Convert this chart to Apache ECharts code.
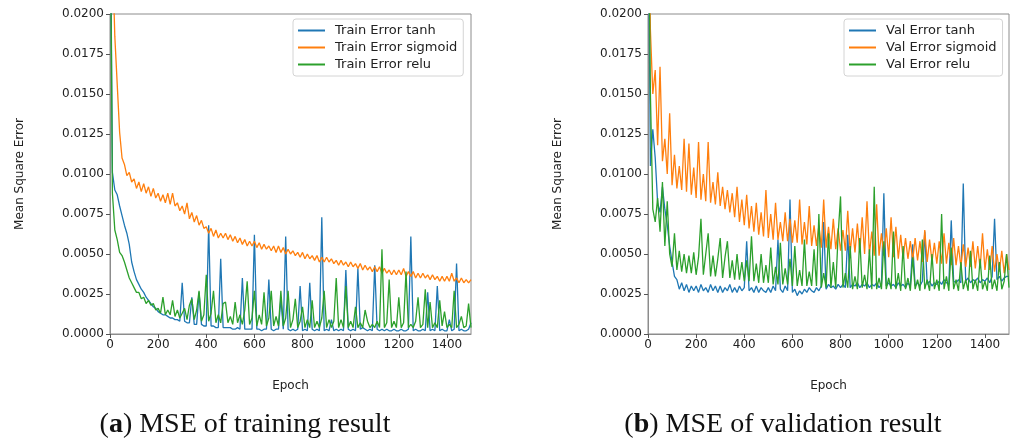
<!DOCTYPE html>
<html>
<head>
<meta charset="utf-8">
<script src="https://cdn.jsdelivr.net/npm/echarts@6/dist/echarts.min.js"></script>
<style>
  html, body { margin: 0; padding: 0; background: #fff; }
  #main { width: 1011px; height: 441px; }
</style>
</head>
<body>
<div id="main"></div>
<script>
// one value every 10 epochs, epoch 0 .. 1500
var epochStep = 10;

// 训练误差
var trainTanh = [
  0.0300,0.0101,0.0090,0.0087,0.0080,0.0074,0.0068,0.0063,0.0056,0.0045,
  0.0039,0.0034,0.0031,0.0028,0.0026,0.0023,0.0021,0.0019,0.0017,0.0016,
  0.0014,0.0013,0.0012,0.0012,0.0011,0.0010,0.0010,0.0009,0.0009,0.0008,
  0.0032,0.0008,0.0007,0.0007,0.0023,0.0006,0.0006,0.0026,0.0006,0.0005,
  0.0005,0.0068,0.0005,0.0005,0.0004,0.0004,0.0047,0.0004,0.0004,0.0004,
  0.0004,0.0003,0.0003,0.0004,0.0003,0.0035,0.0003,0.0003,0.0003,0.0003,
  0.0062,0.0003,0.0003,0.0002,0.0003,0.0003,0.0034,0.0003,0.0002,0.0003,
  0.0003,0.0022,0.0003,0.0061,0.0003,0.0002,0.0003,0.0002,0.0003,0.0030,
  0.0002,0.0003,0.0002,0.0032,0.0003,0.0002,0.0003,0.0002,0.0073,0.0002,
  0.0003,0.0002,0.0009,0.0002,0.0003,0.0002,0.0003,0.0002,0.0040,0.0003,
  0.0002,0.0003,0.0002,0.0041,0.0003,0.0004,0.0003,0.0002,0.0003,0.0002,
  0.0043,0.0003,0.0002,0.0003,0.0002,0.0003,0.0002,0.0002,0.0003,0.0002,
  0.0002,0.0003,0.0002,0.0002,0.0003,0.0061,0.0002,0.0003,0.0002,0.0002,
  0.0003,0.0002,0.0026,0.0002,0.0003,0.0002,0.0030,0.0002,0.0003,0.0002,
  0.0002,0.0009,0.0002,0.0003,0.0044,0.0002,0.0003,0.0002,0.0002,0.0003,
  0.0007
];
var trainSigmoid = [
  0.0300,0.0240,0.0186,0.0156,0.0126,0.0110,0.0106,0.0099,0.0101,0.0095,
  0.0097,0.0091,0.0095,0.0089,0.0094,0.0088,0.0092,0.0086,0.0091,0.0085,
  0.0088,0.0083,0.0087,0.0082,0.0088,0.0081,0.0088,0.0080,0.0082,0.0077,
  0.0080,0.0075,0.0082,0.0072,0.0076,0.0070,0.0074,0.0068,0.0071,0.0066,
  0.0067,0.0063,0.0066,0.0061,0.0065,0.0060,0.0063,0.0060,0.0063,0.0059,
  0.0062,0.0058,0.0061,0.0057,0.0060,0.0056,0.0059,0.0055,0.0058,0.0055,
  0.0058,0.0054,0.0057,0.0053,0.0056,0.0053,0.0055,0.0052,0.0055,0.0051,
  0.0055,0.0051,0.0054,0.0050,0.0053,0.0050,0.0052,0.0049,0.0051,0.0048,
  0.0051,0.0047,0.0050,0.0047,0.0049,0.0046,0.0049,0.0045,0.0048,0.0045,
  0.0048,0.0045,0.0047,0.0044,0.0046,0.0043,0.0046,0.0043,0.0045,0.0042,
  0.0045,0.0042,0.0044,0.0041,0.0044,0.0040,0.0043,0.0040,0.0042,0.0039,
  0.0042,0.0039,0.0042,0.0038,0.0041,0.0038,0.0040,0.0037,0.0040,0.0037,
  0.0040,0.0037,0.0041,0.0036,0.0039,0.0036,0.0039,0.0035,0.0038,0.0035,
  0.0038,0.0035,0.0037,0.0034,0.0037,0.0034,0.0036,0.0033,0.0036,0.0033,
  0.0036,0.0033,0.0038,0.0033,0.0035,0.0032,0.0035,0.0032,0.0034,0.0032,
  0.0034
];
var trainRelu = [
  0.0300,0.0088,0.0065,0.0059,0.0051,0.0049,0.0045,0.0040,0.0035,0.0032,
  0.0029,0.0026,0.0026,0.0022,0.0023,0.0019,0.0021,0.0018,0.0019,0.0015,
  0.0016,0.0013,0.0023,0.0012,0.0015,0.0012,0.0021,0.0011,0.0015,0.0010,
  0.0013,0.0016,0.0009,0.0018,0.0022,0.0009,0.0015,0.0027,0.0008,0.0012,
  0.0037,0.0008,0.0013,0.0027,0.0007,0.0012,0.0007,0.0019,0.0020,0.0007,
  0.0011,0.0006,0.0020,0.0007,0.0012,0.0006,0.0015,0.0033,0.0006,0.0010,
  0.0027,0.0005,0.0012,0.0006,0.0026,0.0005,0.0010,0.0027,0.0005,0.0011,
  0.0005,0.0027,0.0005,0.0010,0.0027,0.0004,0.0009,0.0022,0.0004,0.0008,
  0.0017,0.0004,0.0009,0.0004,0.0021,0.0004,0.0008,0.0004,0.0010,0.0027,
  0.0004,0.0009,0.0004,0.0008,0.0035,0.0004,0.0009,0.0004,0.0030,0.0004,
  0.0008,0.0004,0.0017,0.0004,0.0007,0.0004,0.0015,0.0008,0.0004,0.0006,
  0.0004,0.0008,0.0004,0.0053,0.0004,0.0007,0.0034,0.0004,0.0008,0.0004,
  0.0023,0.0004,0.0007,0.0039,0.0004,0.0006,0.0004,0.0008,0.0023,0.0004,
  0.0006,0.0028,0.0004,0.0020,0.0004,0.0007,0.0004,0.0021,0.0005,0.0014,
  0.0004,0.0006,0.0004,0.0027,0.0004,0.0006,0.0011,0.0004,0.0005,0.0019,
  0.0004
];

// 验证误差
var valTanh = [
  0.0300,0.0105,0.0128,0.0110,0.0082,0.0076,0.0092,0.0078,0.0068,0.0055,
  0.0045,0.0036,0.0034,0.0028,0.0032,0.0027,0.0031,0.0026,0.0030,0.0027,
  0.0030,0.0026,0.0031,0.0027,0.0029,0.0026,0.0031,0.0027,0.0030,0.0026,
  0.0030,0.0026,0.0029,0.0027,0.0031,0.0026,0.0029,0.0026,0.0030,0.0027,
  0.0029,0.0058,0.0027,0.0029,0.0026,0.0030,0.0026,0.0029,0.0027,0.0026,
  0.0029,0.0026,0.0030,0.0027,0.0059,0.0028,0.0026,0.0030,0.0027,0.0084,
  0.0026,0.0028,0.0024,0.0027,0.0025,0.0028,0.0026,0.0029,0.0027,0.0026,
  0.0029,0.0027,0.0030,0.0070,0.0028,0.0031,0.0029,0.0030,0.0028,0.0031,
  0.0029,0.0031,0.0029,0.0062,0.0029,0.0031,0.0030,0.0032,0.0029,0.0031,
  0.0030,0.0032,0.0029,0.0031,0.0030,0.0032,0.0029,0.0031,0.0088,0.0030,
  0.0032,0.0030,0.0031,0.0029,0.0032,0.0030,0.0031,0.0029,0.0032,0.0030,
  0.0056,0.0030,0.0032,0.0030,0.0033,0.0064,0.0031,0.0033,0.0030,0.0032,
  0.0031,0.0033,0.0031,0.0034,0.0032,0.0031,0.0071,0.0033,0.0032,0.0034,
  0.0032,0.0094,0.0033,0.0035,0.0032,0.0034,0.0033,0.0035,0.0032,0.0034,
  0.0033,0.0035,0.0032,0.0036,0.0072,0.0034,0.0036,0.0033,0.0035,0.0036,
  0.0036
];
var valSigmoid = [
  0.0300,0.0190,0.0150,0.0165,0.0118,0.0167,0.0108,0.0122,0.0100,0.0138,
  0.0093,0.0112,0.0091,0.0105,0.0090,0.0122,0.0089,0.0119,0.0087,0.0104,
  0.0085,0.0120,0.0084,0.0100,0.0083,0.0120,0.0082,0.0095,0.0081,0.0101,
  0.0080,0.0092,0.0078,0.0090,0.0076,0.0088,0.0073,0.0092,0.0070,0.0084,
  0.0068,0.0087,0.0066,0.0080,0.0064,0.0082,0.0062,0.0076,0.0061,0.0090,
  0.0060,0.0075,0.0059,0.0082,0.0059,0.0070,0.0058,0.0076,0.0058,0.0072,
  0.0057,0.0071,0.0057,0.0084,0.0056,0.0070,0.0056,0.0080,0.0055,0.0068,
  0.0055,0.0068,0.0054,0.0084,0.0054,0.0067,0.0053,0.0072,0.0053,0.0066,
  0.0052,0.0065,0.0052,0.0077,0.0051,0.0066,0.0051,0.0069,0.0051,0.0073,
  0.0050,0.0083,0.0050,0.0064,0.0049,0.0081,0.0049,0.0063,0.0049,0.0066,
  0.0048,0.0073,0.0048,0.0067,0.0047,0.0062,0.0047,0.0060,0.0047,0.0058,
  0.0046,0.0060,0.0046,0.0058,0.0045,0.0065,0.0045,0.0059,0.0045,0.0057,
  0.0044,0.0058,0.0044,0.0063,0.0044,0.0057,0.0043,0.0060,0.0043,0.0055,
  0.0042,0.0056,0.0042,0.0054,0.0042,0.0058,0.0041,0.0055,0.0041,0.0063,
  0.0040,0.0053,0.0040,0.0055,0.0039,0.0050,0.0039,0.0052,0.0038,0.0050,
  0.0040
];
var valRelu = [
  0.0300,0.0150,0.0078,0.0070,0.0085,0.0064,0.0095,0.0055,0.0083,0.0050,
  0.0042,0.0063,0.0040,0.0052,0.0039,0.0050,0.0038,0.0049,0.0038,0.0051,
  0.0037,0.0048,0.0072,0.0037,0.0050,0.0063,0.0036,0.0049,0.0036,0.0047,
  0.0060,0.0035,0.0048,0.0058,0.0035,0.0046,0.0034,0.0050,0.0034,0.0045,
  0.0033,0.0046,0.0033,0.0061,0.0033,0.0044,0.0032,0.0050,0.0032,0.0043,
  0.0032,0.0054,0.0031,0.0042,0.0031,0.0057,0.0031,0.0041,0.0031,0.0047,
  0.0030,0.0055,0.0030,0.0040,0.0030,0.0059,0.0030,0.0039,0.0030,0.0053,
  0.0030,0.0075,0.0029,0.0038,0.0029,0.0063,0.0029,0.0045,0.0029,0.0062,
  0.0086,0.0029,0.0038,0.0029,0.0055,0.0028,0.0036,0.0028,0.0060,0.0029,
  0.0037,0.0028,0.0053,0.0028,0.0092,0.0028,0.0035,0.0028,0.0058,0.0028,
  0.0035,0.0028,0.0064,0.0028,0.0038,0.0027,0.0055,0.0028,0.0035,0.0027,
  0.0048,0.0028,0.0034,0.0027,0.0059,0.0028,0.0034,0.0027,0.0050,0.0028,
  0.0034,0.0027,0.0075,0.0028,0.0036,0.0027,0.0054,0.0028,0.0034,0.0027,
  0.0045,0.0028,0.0034,0.0027,0.0052,0.0028,0.0034,0.0027,0.0047,0.0028,
  0.0033,0.0027,0.0049,0.0028,0.0034,0.0027,0.0045,0.0028,0.0033,0.0050,
  0.0029
];

var trainNames = ['Train Error tanh', 'Train Error sigmoid', 'Train Error relu'];
var valNames = ['Val Error tanh', 'Val Error sigmoid', 'Val Error relu'];
var colors = ['#1f77b4', '#ff7f0e', '#2ca02c'];

var fontFamily = '"DejaVu Sans", sans-serif';

function toPairs(vals){
  return vals.map(function(v, i){ return [i * epochStep, v]; });
}

function getGrid(left){
  return {
    left: left, top: 14, width: 361, height: 320,
    show: true, borderColor: '#8c8c8c', borderWidth: 1,
    backgroundColor: 'transparent'
  };
}

function getXAxis(idx){
  return {
    gridIndex: idx,
    type: 'value',
    min: 0, max: 1500, interval: 200,
    name: 'Epoch',
    nameLocation: 'middle',
    nameGap: 46,
    nameTextStyle: { fontFamily: fontFamily, fontSize: 12, color: '#222' },
    axisLine: { show: true, lineStyle: { color: '#8c8c8c', width: 1 } },
    axisTick: { show: true, length: 4, lineStyle: { color: '#555' } },
    axisLabel: {
      fontFamily: fontFamily, fontSize: 12, color: '#222', margin: 5, showMaxLabel: false,
      formatter: function(v){ return String(v); }
    },
    splitLine: { show: false }
  };
}

function getYAxis(idx){
  return {
    gridIndex: idx,
    type: 'value',
    min: 0, max: 0.02, interval: 0.0025,
    name: 'Mean Square Error',
    nameLocation: 'middle',
    nameGap: 84,
    nameTextStyle: { fontFamily: fontFamily, fontSize: 12, color: '#222' },
    axisLine: { show: true, lineStyle: { color: '#8c8c8c', width: 1 } },
    axisTick: { show: true, length: 4, lineStyle: { color: '#555' } },
    axisLabel: {
      fontFamily: fontFamily, fontSize: 12, color: '#222', margin: 6,
      formatter: function(v){ return v.toFixed(4); }
    },
    splitLine: { show: false }
  };
}

function getLegend(left, names){
  return {
    left: left, top: 19,
    orient: 'vertical',
    icon: 'rect',
    itemWidth: 27, itemHeight: 2, itemGap: 4,
    padding: [5, 6, 5, 5],
    borderColor: '#d4d4d4', borderWidth: 1, borderRadius: 3,
    backgroundColor: 'rgba(255,255,255,0.85)',
    textStyle: { fontFamily: fontFamily, fontSize: 13, color: '#222', padding: [0, 0, 0, 5] },
    data: names
  };
}

function getSeries(names, lists, idx){
  return names.map(function(n, i){
    return {
      name: n,
      type: 'line',
      xAxisIndex: idx, yAxisIndex: idx,
      showSymbol: false, symbol: 'none',
      clip: true,
      color: colors[i],
      lineStyle: { width: 1.3, color: colors[i] },
      data: toPairs(lists[i])
    };
  });
}

var captionFont = '28px "Liberation Serif", "DejaVu Serif", serif';

var option = {
  animation: false,
  backgroundColor: '#fff',
  grid: [getGrid(110), getGrid(648)],
  xAxis: [getXAxis(0), getXAxis(1)],
  yAxis: [getYAxis(0), getYAxis(1)],
  legend: [getLegend(293, trainNames), getLegend(844, valNames)],
  series: getSeries(trainNames, [trainTanh, trainSigmoid, trainRelu], 0)
    .concat(getSeries(valNames, [valTanh, valSigmoid, valRelu], 1)),
  graphic: [
    {
      type: 'text', x: 245, y: 425,
      style: {
        text: '({b|a}) MSE of training result',
        font: captionFont, fill: '#111',
        align: 'center', verticalAlign: 'middle',
        rich: { b: { font: 'bold ' + captionFont, fill: '#111' } }
      }
    },
    {
      type: 'text', x: 783, y: 425,
      style: {
        text: '({b|b}) MSE of validation result',
        font: captionFont, fill: '#111',
        align: 'center', verticalAlign: 'middle',
        rich: { b: { font: 'bold ' + captionFont, fill: '#111' } }
      }
    }
  ]
};

var chart = echarts.init(document.getElementById('main'), null, { renderer: 'canvas' });
chart.setOption(option);
</script>
</body>
</html>
